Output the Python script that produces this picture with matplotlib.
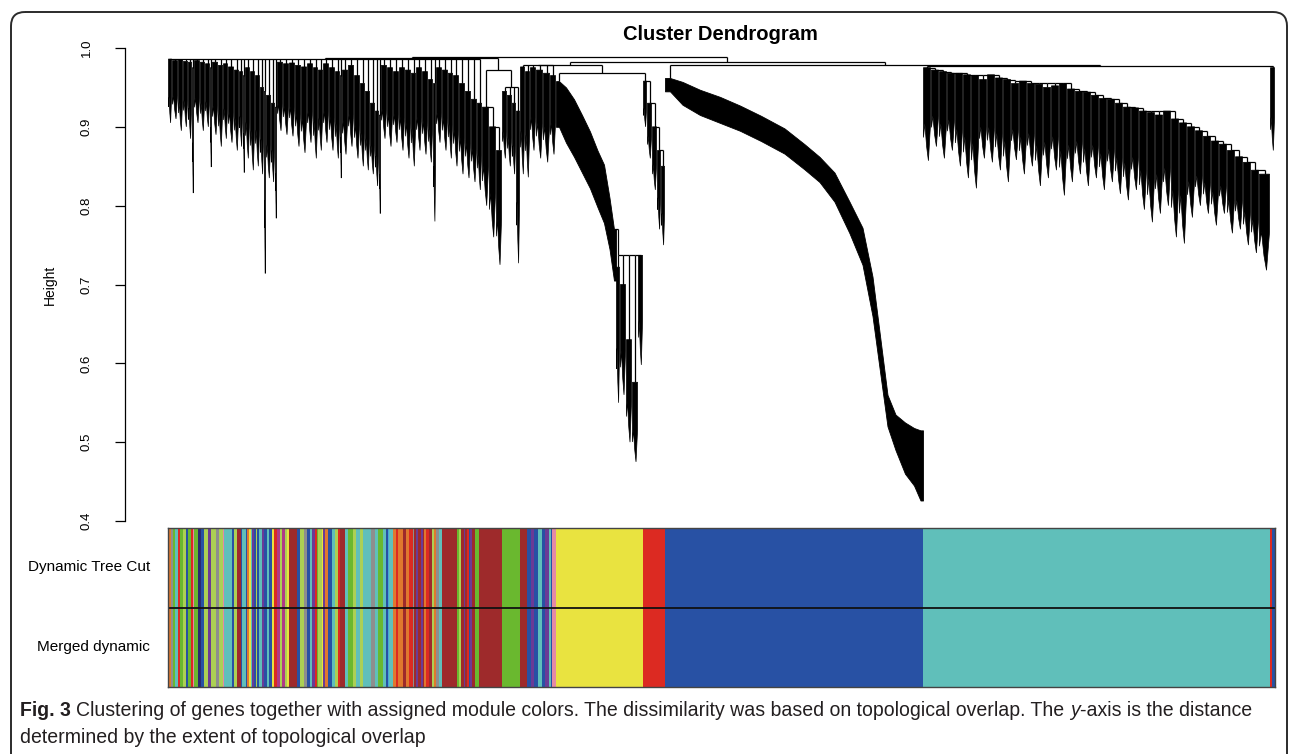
import numpy as np
import matplotlib.pyplot as plt
from matplotlib.patches import Polygon, FancyBboxPatch
from matplotlib.collections import LineCollection

plt.rcParams['font.family'] = ['Liberation Sans', 'DejaVu Sans']

W, H = 1290, 754

# colour codes used in the module colour rows
colour_codes = {
    't': '#60bfba', 'b': '#2851a4', 'n': '#9e2a2b', 'y': '#e9e340',
    'g': '#6ab82f', 'r': '#dc2a22', 'o': '#e0782e', 'e': '#8e8e8e',
    'l': '#acd054', 'p': '#e58aa5', 'x': '#2b2a72', 'u': '#6b3b96',
    'm': '#b03a86', 'c': '#48a8d8',
}

# small mixed modules on the left, one character per thin stripe
mixA_stripes = ("ooegttrggllbggrpggxxbblluullleellptttttbllnnbttboytublb"
                "ttubbtbbyrrmmlmmlynnnnnbblleebbtuurgllyuoobbttllrnnnttggg"
                "llttllttttteettgggttbcttoorooonnoorrenunnunorrnnloeettnnnnnnnn"
                "nglnnunrbunnggnn")
mix2_stripes = "nnnnbbuubbttbbuutbpp"

# dendrogram sub-clusters: leaf count, join height, lowest leaf height
mixA_w = [4, 6, 5, 5, 4, 2, 6, 5, 5, 2, 6, 5, 5, 6, 5, 4, 2, 5, 5, 5, 4, 2, 5, 4, 2,
          6, 6, 6, 6, 6, 6, 5, 5, 6, 6, 5, 2, 6, 6, 6, 5, 5, 5, 4, 2, 6, 6, 6, 6, 6,
          5, 6, 6, 5, 3, 6, 6, 5, 6, 6, 6, 6, 5]
mixA_top = [0.986, 0.984, 0.985, 0.983, 0.982, 0.975, 0.984, 0.982, 0.980, 0.975,
            0.982, 0.978, 0.980, 0.976, 0.972, 0.970, 0.965, 0.975, 0.970, 0.965,
            0.950, 0.945, 0.940, 0.930, 0.925, 0.982, 0.980, 0.981, 0.978, 0.976,
            0.980, 0.975, 0.972, 0.980, 0.975, 0.970, 0.965, 0.972, 0.978, 0.965,
            0.955, 0.945, 0.930, 0.920, 0.915, 0.978, 0.975, 0.970, 0.975, 0.972,
            0.968, 0.975, 0.970, 0.960, 0.955, 0.975, 0.972, 0.968, 0.965, 0.955,
            0.945, 0.935, 0.930]
mixA_tip = [0.905, 0.910, 0.895, 0.900, 0.885, 0.816, 0.905, 0.895, 0.900, 0.849,
            0.890, 0.875, 0.885, 0.880, 0.870, 0.875, 0.842, 0.860, 0.845, 0.850,
            0.840, 0.714, 0.835, 0.830, 0.784, 0.895, 0.890, 0.888, 0.875, 0.867,
            0.880, 0.860, 0.870, 0.880, 0.870, 0.860, 0.835, 0.865, 0.875, 0.860,
            0.850, 0.845, 0.840, 0.825, 0.790, 0.885, 0.875, 0.880, 0.870, 0.860,
            0.850, 0.870, 0.865, 0.855, 0.780, 0.880, 0.870, 0.860, 0.850, 0.840,
            0.835, 0.830, 0.820]

brown_w = [7, 7, 6]
brown_top = [0.925, 0.900, 0.870]
brown_tip = [0.800, 0.760, 0.725]

green_w = [5, 5, 4, 4]
green_top = [0.945, 0.940, 0.930, 0.920]
green_tip = [0.860, 0.850, 0.840, 0.727]

mix2_w = [5, 5, 6, 7, 7, 6]
mix2_top = [0.976, 0.970, 0.975, 0.972, 0.968, 0.965]
mix2_tip = [0.840, 0.836, 0.870, 0.860, 0.855, 0.865]

# yellow: smooth upper chain, then the deep sub-tree
yellowA_w = [6, 8, 8, 8, 8, 7, 6, 5, 4]
yellowA_top = [0.958, 0.950, 0.935, 0.915, 0.894, 0.870, 0.852, 0.810, 0.770]
yellowA_tip = [0.900, 0.880, 0.862, 0.842, 0.822, 0.798, 0.778, 0.745, 0.705]
yellowB_w = [4, 6, 6, 6, 5]
yellowB_top = [0.722, 0.700, 0.630, 0.576, 0.737]
yellowB_tip = [0.550, 0.560, 0.500, 0.475, 0.598]

red_w = [4, 5, 5, 4, 4]
red_top = [0.958, 0.930, 0.900, 0.870, 0.850]
red_tip = [0.900, 0.860, 0.820, 0.770, 0.750]

blue_w = [10, 15, 20, 20, 20, 22, 25, 15, 15, 15, 15, 11, 9, 7, 7, 9, 10, 8, 5]
blue_top = [0.962, 0.957, 0.947, 0.938, 0.927, 0.914, 0.898, 0.878, 0.862, 0.842,
            0.805, 0.772, 0.710, 0.630, 0.560, 0.535, 0.525, 0.518, 0.515]
blue_tip = [0.945, 0.928, 0.915, 0.905, 0.895, 0.882, 0.866, 0.846, 0.830, 0.805,
            0.765, 0.725, 0.660, 0.585, 0.520, 0.490, 0.460, 0.445, 0.426]

turq_w = [8] * 42 + [11]
turq_top = [0.975, 0.972, 0.970, 0.968, 0.968, 0.966, 0.965, 0.960, 0.966, 0.962,
            0.960, 0.955, 0.958, 0.955, 0.954, 0.950, 0.952, 0.955, 0.948, 0.945,
            0.944, 0.940, 0.936, 0.935, 0.930, 0.925, 0.924, 0.920, 0.918, 0.915,
            0.920, 0.910, 0.905, 0.900, 0.895, 0.888, 0.882, 0.878, 0.870, 0.862,
            0.855, 0.845, 0.840]
turq_tip = [0.857, 0.875, 0.860, 0.870, 0.850, 0.835, 0.822, 0.860, 0.855, 0.845,
            0.830, 0.858, 0.840, 0.850, 0.825, 0.835, 0.845, 0.813, 0.830, 0.840,
            0.825, 0.835, 0.820, 0.830, 0.815, 0.807, 0.820, 0.795, 0.779, 0.790,
            0.800, 0.760, 0.752, 0.785, 0.800, 0.790, 0.775, 0.790, 0.765, 0.770,
            0.750, 0.740, 0.718]

tail_w = [5]
tail_top = [0.975]
tail_tip = [0.870]

# heights where modules are merged together
join_h = {'mixA': 0.986, 'green': 0.950, 'mix2': 0.978, 'tail': 0.976,
          'yellow_deep': 0.770, 'brown_green': 0.972, 'left': 0.987,
          'yellow_red': 0.968, 'mix2_yr': 0.979, 'turq_tail': 0.977,
          'blue_rest': 0.978, 'right': 0.982, 'root': 0.988}

modules = [
    ('mixA', mixA_w, mixA_top, mixA_tip, 'comb', mixA_stripes),
    ('brown', brown_w, brown_top, brown_tip, 'ladder', 'n'),
    ('green', green_w, green_top, green_tip, 'comb', 'g'),
    ('mix2', mix2_w, mix2_top, mix2_tip, 'comb', mix2_stripes),
    ('yellowA', yellowA_w, yellowA_top, yellowA_tip, 'band', 'y'),
    ('yellowB', yellowB_w, yellowB_top, yellowB_tip, 'ladder', 'y'),
    ('red', red_w, red_top, red_tip, 'ladder', 'r'),
    ('blue', blue_w, blue_top, blue_tip, 'band', 'b'),
    ('turquoise', turq_w, turq_top, turq_tip, 'ladder', 't'),
    ('tail', tail_w, tail_top, tail_tip, 'comb', 'rrbbb'),
]

n_leaves = sum(sum(m[1]) for m in modules)

fig = plt.figure(figsize=(W / 100, H / 100), dpi=100)

# background layer in pixel coordinates (frame + caption)
bg = fig.add_axes([0, 0, 1, 1])
bg.set_xlim(0, W)
bg.set_ylim(H, 0)
bg.axis('off')
bg.add_patch(FancyBboxPatch((11, 12), 1276, 800, boxstyle='round,pad=0,rounding_size=14',
                            fc='none', ec='#2b2b2b', lw=1.4))

ax = fig.add_axes([168 / W, (H - 521) / H, 1107 / W, 473 / H])
ax.set_xlim(0, n_leaves)
ax.set_ylim(0.4, 1.0)

segs = []


def seg(xs, ys):
    segs.append(list(zip(xs, ys)))


def draw_blocks(x0, widths, tops, tips):
    centres = []
    x = x0
    for w, t, p in zip(widths, tops, tips):
        dw = max(w - 0.9, 0.6 * w)
        xa = x + (w - dw) / 2
        d = t - p
        pts = [(xa, t), (xa + dw, t), (xa + dw, t - 0.6 * d), (xa + 0.7 * dw, p),
               (xa + 0.45 * dw, p + 0.15 * d), (xa + 0.2 * dw, t - 0.6 * d),
               (xa, t - 0.75 * d)]
        ax.add_patch(Polygon(pts, closed=True, fc='black', ec='black', lw=0.5))
        centres.append(x + w / 2)
        x += w
    return centres


def draw_comb(x0, widths, tops, tips, height):
    c = draw_blocks(x0, widths, tops, tips)
    for xc, t in zip(c, tops):
        seg([xc, xc], [t, height])
    seg([c[0], c[-1]], [height, height])
    return (c[0] + c[-1]) / 2, height


def draw_ladder(x0, widths, tops, tips):
    c = draw_blocks(x0, widths, tops, tips)
    px, ph = c[-1], tops[-1]
    for xc, t in zip(c[-2::-1], tops[-2::-1]):
        h = max(t, ph)
        seg([xc, xc], [t, h])
        seg([px, px], [ph, h])
        seg([xc, px], [h, h])
        px, ph = xc, h
    return px, ph


def draw_band(x0, widths, tops, tips):
    edges = x0 + np.concatenate([[0], np.cumsum(widths)])
    c = (edges[:-1] + edges[1:]) / 2
    xs = np.concatenate([[edges[0]], c, [edges[-1]]])
    top_line = np.concatenate([[tops[0]], tops, [tops[-1]]])
    tip_line = np.concatenate([[tips[0]], tips, [tips[-1]]])
    ax.fill_between(xs, tip_line, top_line, color='black', lw=0.6)
    return (c[0], tops[0]), (c[-1], tops[-1])


def join(height, *children):
    xs = [ch[0] for ch in children]
    for xc, h in children:
        seg([xc, xc], [h, height])
    seg([min(xs), max(xs)], [height, height])
    return (min(xs) + max(xs)) / 2, height


pos = {}
ends = {}
x = 0
for name, w, top, tip, style, _ in modules:
    if style == 'comb':
        pos[name] = draw_comb(x, w, top, tip, join_h[name])
    elif style == 'ladder':
        pos[name] = draw_ladder(x, w, top, tip)
    else:
        pos[name], ends[name] = draw_band(x, w, top, tip)
    x += sum(w)

# deep yellow sub-tree hangs from the lower end of the yellow chain
join(join_h['yellow_deep'], ends['yellowA'], pos['yellowB'])
left = join(join_h['left'], pos['mixA'], join(join_h['brown_green'], pos['brown'], pos['green']))
yr = join(join_h['yellow_red'], pos['yellowA'], pos['red'])
m2 = join(join_h['mix2_yr'], pos['mix2'], yr)
tt = join(join_h['turq_tail'], pos['turquoise'], pos['tail'])
bt = join(join_h['blue_rest'], pos['blue'], tt)
right = join(join_h['right'], m2, bt)
join(join_h['root'], left, right)

ax.add_collection(LineCollection(segs, colors='black', linewidths=0.9))

for s in ['top', 'right', 'bottom']:
    ax.spines[s].set_visible(False)
ax.spines['left'].set_position(('outward', 31))
ax.spines['left'].set_bounds(0.4, 1.0)
ax.spines['left'].set_linewidth(0.9)
ax.set_xticks([])
yt = [0.4, 0.5, 0.6, 0.7, 0.8, 0.9, 1.0]
ax.set_yticks(yt)
ax.set_yticklabels([f'{v:.1f}' for v in yt], rotation=90, va='center', fontsize=9.5)
ax.tick_params(axis='y', length=7, width=0.9, pad=16)
ax.patch.set_alpha(0)

fig.text(720 / W, 1 - 35 / H, 'Cluster Dendrogram', ha='center', va='center',
         fontsize=14.5, fontweight='bold')
fig.text(50 / W, 1 - 285 / H, 'Height', ha='center', va='center', rotation=90, fontsize=10)

# module colour rows
cax = fig.add_axes([168 / W, (H - 687) / H, 1107 / W, 159 / H])
cax.set_xlim(0, n_leaves)
cax.set_ylim(0, 2)
x = 0
for name, w, top, tip, style, stripes in modules:
    width = sum(w)
    step = width / len(stripes)
    i = 0
    while i < len(stripes):
        j = i
        while j < len(stripes) and stripes[j] == stripes[i]:
            j += 1
        for row in (0, 1):
            cax.bar(x + i * step, 1, width=(j - i) * step, bottom=row, align='edge',
                    color=colour_codes[stripes[i]], lw=0)
        i = j
    x += width
cax.axhline(1, color='#111111', lw=1.3)
cax.set_xticks([])
cax.set_yticks([])
for s in cax.spines.values():
    s.set_color('#444444')
    s.set_linewidth(1.0)

fig.text(150 / W, 1 - 567 / H, 'Dynamic Tree Cut', ha='right', va='center', fontsize=11)
fig.text(150 / W, 1 - 647 / H, 'Merged dynamic', ha='right', va='center', fontsize=11)

# caption
cap_col = '#231f20'
line1 = [('Fig. 3', 'bold', 'normal'),
         ('Clustering of genes together with assigned module colors. The dissimilarity '
          'was based on topological overlap. The', 'normal', 'normal'),
         ('y', 'normal', 'italic'),
         ('-axis is the distance', 'normal', 'normal')]
line2 = 'determined by the extent of topological overlap'

renderer = fig.canvas.get_renderer()
fs = 12.5


def text_width(s, weight='normal', style='normal'):
    t = bg.text(0, 0, s, fontsize=fs, fontweight=weight, fontstyle=style)
    wdt = t.get_window_extent(renderer).width
    t.remove()
    return wdt


space = text_width('a a') - text_width('aa')
total = sum(text_width(s, wt, st) for s, wt, st in line1) + 2 * space
fs = fs * 1233 / total
space = text_width('a a') - text_width('aa')

x = 20
for k, (s, wt, st) in enumerate(line1):
    bg.text(x, 716, s, fontsize=fs, fontweight=wt, fontstyle=st, color=cap_col, va='baseline')
    x += text_width(s, wt, st)
    if k in (0, 1):
        x += space
bg.text(20, 743, line2, fontsize=fs, color=cap_col, va='baseline')

fig.savefig('out.png', dpi=100)
